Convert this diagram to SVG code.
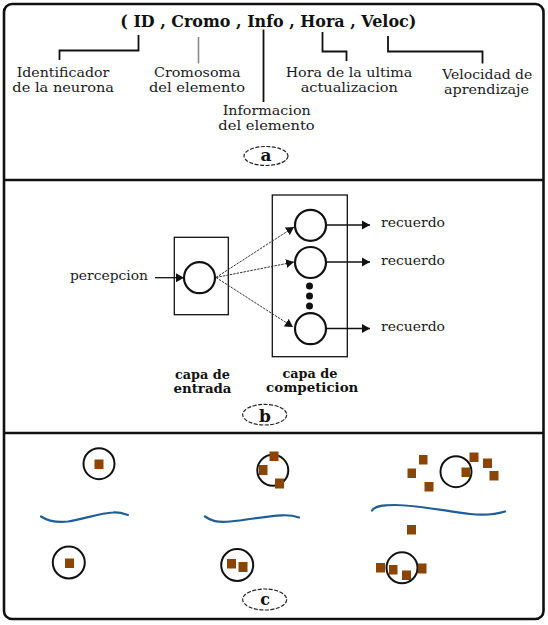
<svg xmlns="http://www.w3.org/2000/svg" width="548" height="625" viewBox="0 0 548 625">
<style>
  .frame{fill:none;stroke:#111;stroke-width:2.6}
  .sep{stroke:#111;stroke-width:2.6}
  .lbl{font-family:"DejaVu Serif","Liberation Serif",serif;font-size:13px;fill:#1a1a24}
  .bold{font-family:"DejaVu Serif","Liberation Serif",serif;font-weight:bold;fill:#111}
  .conn{fill:none;stroke:#111;stroke-width:1.8}
  .conng{fill:none;stroke:#8a8a8a;stroke-width:1.6}
  .tag{fill:none;stroke:#222;stroke-width:1.2;stroke-dasharray:4 1.5}
  .box{fill:none;stroke:#111;stroke-width:1.3}
  .neu{fill:none;stroke:#111;stroke-width:2.2}
  .thin{fill:none;stroke:#333;stroke-width:1;stroke-dasharray:2.5 1}
  .arr{fill:none;stroke:#111;stroke-width:1.3}
  .cell{fill:none;stroke:#111;stroke-width:2}
  .sq{fill:#8a4507}
  .wave{fill:none;stroke:#1f5e98;stroke-width:2.2;stroke-linecap:round}
</style>
<defs>
  <marker id="ah" markerUnits="userSpaceOnUse" markerWidth="9" markerHeight="10" refX="8" refY="5" orient="auto">
    <path d="M0,0.5 L8,5 L0,9.5 z" fill="#111"/>
  </marker>
</defs>

<!-- frame -->
<rect class="frame" x="4" y="4" width="539.5" height="615" rx="8" ry="8"/>
<line class="sep" x1="4" y1="180" x2="543.5" y2="180"/>
<line class="sep" x1="4" y1="433" x2="543.5" y2="433"/>

<!-- Section a -->
<g id="title">
  <text class="bold" x="268.3" y="26.5" font-size="16" text-anchor="middle" textLength="296" lengthAdjust="spacingAndGlyphs">( ID , Cromo , Info , Hora , Veloc)</text>
</g>
<g id="connectors-a">
  <path class="conn" d="M138.5,35 V50.5 H59.5 V60"/>
  <path class="conng" d="M198.5,37 V63.5"/>
  <path class="conn" d="M263.5,29.5 V102"/>
  <path class="conn" d="M322.5,32 V51.5 H346.5 V61"/>
  <path class="conn" d="M388,36 V51.5 H482.5 V63.5"/>
</g>
<g id="id-label">
  <text class="lbl" x="63" y="76.7" text-anchor="middle" textLength="92.6" lengthAdjust="spacingAndGlyphs">Identificador</text>
  <text class="lbl" x="63.2" y="91.7" text-anchor="middle" textLength="101.7" lengthAdjust="spacingAndGlyphs">de la neurona</text>
</g>
<g id="cromo-label">
  <text class="lbl" x="197.3" y="76.7" text-anchor="middle" textLength="86.7" lengthAdjust="spacingAndGlyphs">Cromosoma</text>
  <text class="lbl" x="197" y="91.7" text-anchor="middle" textLength="96" lengthAdjust="spacingAndGlyphs">del elemento</text>
</g>
<g id="info-label">
  <text class="lbl" x="266.7" y="115" text-anchor="middle" textLength="88" lengthAdjust="spacingAndGlyphs">Informacion</text>
  <text class="lbl" x="266.5" y="130" text-anchor="middle" textLength="96.4" lengthAdjust="spacingAndGlyphs">del elemento</text>
</g>
<g id="hora-label">
  <text class="lbl" x="349" y="76.7" text-anchor="middle" textLength="126.7" lengthAdjust="spacingAndGlyphs">Hora de la ultima</text>
  <text class="lbl" x="349.3" y="91.7" text-anchor="middle" textLength="97.3" lengthAdjust="spacingAndGlyphs">actualizacion</text>
</g>
<g id="veloc-label">
  <text class="lbl" x="487.3" y="79.3" text-anchor="middle" textLength="90" lengthAdjust="spacingAndGlyphs">Velocidad de</text>
  <text class="lbl" x="486.5" y="93.5" text-anchor="middle" textLength="85" lengthAdjust="spacingAndGlyphs">aprendizaje</text>
</g>
<g id="tag-a">
  <ellipse class="tag" cx="266" cy="156" rx="22" ry="9.5"/>
  <text class="bold" x="266" y="161" font-size="17" text-anchor="middle">a</text>
</g>

<!-- Section b -->
<g id="input-layer">
  <rect class="box" x="174.3" y="237.3" width="54" height="77.4"/>
  <circle class="neu" cx="199.5" cy="277.7" r="15.5"/>
</g>
<g id="competition-layer">
  <rect class="box" x="272.3" y="195" width="75" height="161.7"/>
  <circle class="neu" cx="310.5" cy="225.3" r="15.5"/>
  <circle class="neu" cx="310.5" cy="262.5" r="15.5"/>
  <circle class="neu" cx="310.5" cy="328.7" r="15.5"/>
  <circle cx="309.5" cy="286" r="3.5" fill="#111"/>
  <circle cx="309.5" cy="296" r="3.5" fill="#111"/>
  <circle cx="309.5" cy="306" r="3.5" fill="#111"/>
</g>
<g id="connectors-b">
  <line class="arr" x1="155" y1="277.7" x2="184" y2="277.7" marker-end="url(#ah)"/>
  <line class="thin" x1="216" y1="277.5" x2="294" y2="227" marker-end="url(#ah)"/>
  <line class="thin" x1="216" y1="277.5" x2="294" y2="262" marker-end="url(#ah)"/>
  <line class="thin" x1="216" y1="277.5" x2="293" y2="327" marker-end="url(#ah)"/>
  <line class="arr" x1="326" y1="225" x2="370" y2="225" marker-end="url(#ah)"/>
  <line class="arr" x1="326" y1="262" x2="370" y2="262" marker-end="url(#ah)"/>
  <line class="arr" x1="326" y1="328.5" x2="370" y2="328.5" marker-end="url(#ah)"/>
</g>
<g id="labels-b">
  <text class="lbl" x="70" y="280" textLength="78" lengthAdjust="spacingAndGlyphs">percepcion</text>
  <text class="lbl" x="381" y="227" textLength="64" lengthAdjust="spacingAndGlyphs">recuerdo</text>
  <text class="lbl" x="381" y="264.5" textLength="64" lengthAdjust="spacingAndGlyphs">recuerdo</text>
  <text class="lbl" x="381" y="331" textLength="64" lengthAdjust="spacingAndGlyphs">recuerdo</text>
  <text class="bold" x="202.5" y="378.5" font-size="13" text-anchor="middle" textLength="55" lengthAdjust="spacingAndGlyphs">capa de</text>
  <text class="bold" x="202.5" y="392.5" font-size="13" text-anchor="middle" textLength="58" lengthAdjust="spacingAndGlyphs">entrada</text>
  <text class="bold" x="310" y="378" font-size="13" text-anchor="middle" textLength="55" lengthAdjust="spacingAndGlyphs">capa de</text>
  <text class="bold" x="312.2" y="392" font-size="13" text-anchor="middle" textLength="92.3" lengthAdjust="spacingAndGlyphs">competicion</text>
</g>
<g id="tag-b">
  <ellipse class="tag" cx="264.7" cy="414.7" rx="22" ry="10.3"/>
  <text class="bold" x="265" y="421.5" font-size="17" text-anchor="middle">b</text>
</g>

<!-- Section c -->
<g id="waves">
  <path class="wave" d="M41,516.5 C48,521 56,523 68,521.5 C84,519 100,513 113,512.5 C120,512 125,514 128,515"/>
  <path class="wave" d="M205,516.5 C211,521 217,522.5 230,521.5 C248,520 265,516 282,515.3 C290,515 295,516 299,517.5"/>
  <path class="wave" d="M372,510.5 C375,506 382,505 395,505 C420,505.5 445,511 470,514 C480,515 492,515.5 505,511.5"/>
</g>
<g id="c-left">
  <circle class="cell" cx="99" cy="463.7" r="15.5"/>
  <rect class="sq" x="94.5" y="459.5" width="9" height="9.5"/>
  <circle class="cell" cx="68.8" cy="562.5" r="16"/>
  <rect class="sq" x="65" y="558.5" width="9" height="9.5"/>
</g>
<g id="c-middle">
  <circle class="cell" cx="272.8" cy="470.3" r="15.5"/>
  <rect class="sq" x="269.5" y="451.5" width="9" height="9.5"/>
  <rect class="sq" x="259" y="465" width="8.5" height="10"/>
  <rect class="sq" x="275" y="478.5" width="9" height="10"/>
  <circle class="cell" cx="237.2" cy="565" r="16"/>
  <rect class="sq" x="227" y="559" width="9" height="9.5"/>
  <rect class="sq" x="238.5" y="562" width="9" height="10"/>
</g>
<g id="c-right">
  <circle class="cell" cx="456" cy="471.7" r="15.5"/>
  <rect class="sq" x="419" y="455" width="8.5" height="9.5"/>
  <rect class="sq" x="407.5" y="468.5" width="8.5" height="9.5"/>
  <rect class="sq" x="424.5" y="482" width="9" height="9.5"/>
  <rect class="sq" x="461.5" y="467.5" width="8.5" height="9.5"/>
  <rect class="sq" x="469.5" y="452.5" width="9" height="9.5"/>
  <rect class="sq" x="483" y="458.5" width="9" height="9.5"/>
  <rect class="sq" x="489.5" y="471" width="9" height="9.5"/>
  <rect class="sq" x="407" y="525" width="9" height="9.5"/>
  <circle class="cell" cx="402" cy="567.8" r="15.5"/>
  <rect class="sq" x="376" y="563" width="9" height="9.5"/>
  <rect class="sq" x="389" y="565" width="8.5" height="9.5"/>
  <rect class="sq" x="402" y="570.5" width="9" height="9.5"/>
  <rect class="sq" x="418" y="563.5" width="8.5" height="10"/>
</g>
<g id="tag-c">
  <ellipse class="tag" cx="264.7" cy="599.5" rx="22" ry="10.5"/>
  <text class="bold" x="265" y="604.5" font-size="16" text-anchor="middle">c</text>
</g>
</svg>
